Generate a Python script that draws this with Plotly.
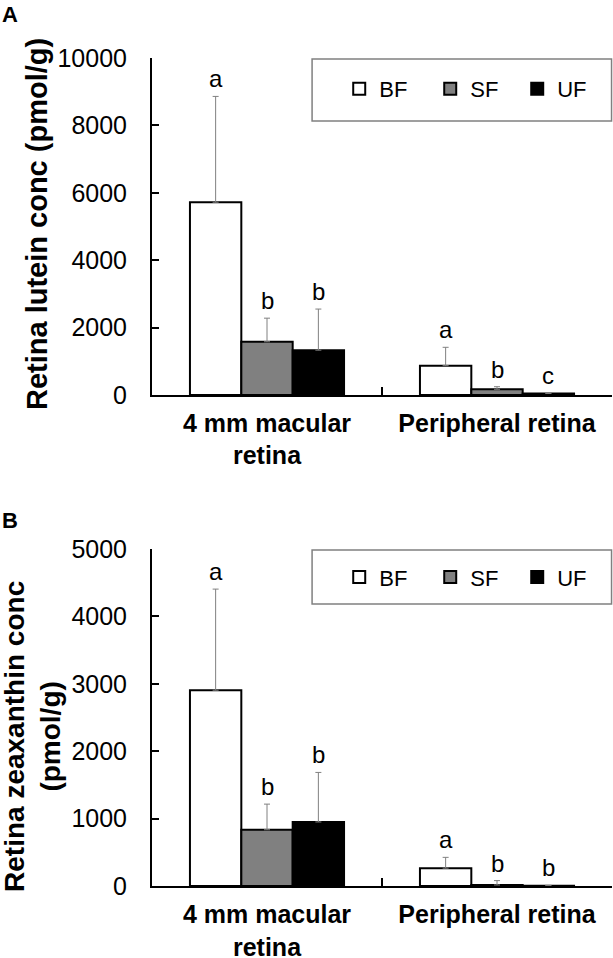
import plotly.graph_objects as go

categories = ["4 mm macular<br>retina", "Peripheral retina"]
groups = ["BF", "SF", "UF"]
colors = ["#FFFFFF", "#808080", "#000000"]

# Panel A: lutein (pmol/g)
lutein_mean = {"BF": [5720, 870], "SF": [1580, 170], "UF": [1330, 45]}
lutein_sd = {"BF": [3140, 545], "SF": [700, 76], "UF": [1220, 10]}
lutein_letters = {"BF": ["a", "a"], "SF": ["b", "b"], "UF": ["b", "c"]}

# Panel B: zeaxanthin (pmol/g)
zea_mean = {"BF": [2905, 265], "SF": [835, 15], "UF": [950, 5]}
zea_sd = {"BF": [1500, 160], "SF": [380, 65], "UF": [735, 5]}
zea_letters = {"BF": ["a", "a"], "SF": ["b", "b"], "UF": ["b", "b"]}

FONT = "Liberation Sans, Arial, sans-serif"
BARGAP = 0.33
LEGEND_WIDTHS = {"BF": 46, "SF": 42, "UF": 30}

fig = go.Figure()

for means, sds, xa, ya, leg in [
        (lutein_mean, lutein_sd, "x", "y", "legend"),
        (zea_mean, zea_sd, "x2", "y2", "legend2")]:
    for g, c in zip(groups, colors):
        fig.add_trace(go.Bar(
            x=categories, y=means[g], name=g, xaxis=xa, yaxis=ya,
            legend=leg, legendwidth=LEGEND_WIDTHS[g],
            marker=dict(color=c, line=dict(color="black", width=2)),
            error_y=dict(type="data", array=sds[g], arrayminus=[0, 0],
                         symmetric=False, color="#808080", thickness=1, width=3),
        ))

# significance letters above error bars
gw = (1 - BARGAP) / 3
for means, sds, letters, xr, yr in [
        (lutein_mean, lutein_sd, lutein_letters, "x", "y"),
        (zea_mean, zea_sd, zea_letters, "x2", "y2")]:
    for gi, g in enumerate(groups):
        for ci in range(len(categories)):
            fig.add_annotation(
                x=ci + (gi - 1) * gw, y=means[g][ci] + sds[g][ci],
                xref=xr, yref=yr, text=letters[g][ci], showarrow=False,
                yanchor="bottom", yshift=2,
                font=dict(family=FONT, size=24, color="black"))

axis_common = dict(showline=True, linecolor="black", linewidth=2,
                   showgrid=False, zeroline=False, automargin=False)
xaxis_common = dict(ticks="inside", ticklen=8, tickwidth=2, tickcolor="black",
                    tickson="boundaries", ticklabelstandoff=5,
                    tickfont=dict(size=25, weight="bold"), **axis_common)
yaxis_common = dict(ticks="inside", ticklen=7, tickwidth=2, tickcolor="black",
                    tickformat="d", ticklabelstandoff=18,
                    tickfont=dict(size=25), **axis_common)

fig.update_layout(
    width=613, height=958,
    margin=dict(l=152, r=1, t=58, b=72),
    paper_bgcolor="white", plot_bgcolor="white",
    barmode="group", bargap=BARGAP, bargroupgap=0,
    font=dict(family=FONT, color="black"),
    xaxis=dict(domain=[0, 1], anchor="y", **xaxis_common),
    yaxis=dict(domain=[0.593, 1], anchor="x", range=[0, 10000], dtick=2000,
               **yaxis_common),
    xaxis2=dict(domain=[0, 1], anchor="y2", **xaxis_common),
    yaxis2=dict(domain=[0, 0.407], anchor="x2", range=[0, 5000], dtick=1000,
                **yaxis_common),
    legend=dict(orientation="h", x=0.407, xanchor="left", y=0.9626,
                yanchor="middle", bgcolor="rgba(0,0,0,0)", borderwidth=0,
                font=dict(size=22)),
    legend2=dict(orientation="h", x=0.407, xanchor="left", y=0.373,
                 yanchor="middle", bgcolor="rgba(0,0,0,0)", borderwidth=0,
                 font=dict(size=22)),
    shapes=[
        dict(type="rect", xref="paper", yref="paper", x0=0.348, x1=0.999,
             y0=0.924, y1=0.9988, line=dict(color="#808080", width=1.5)),
        dict(type="rect", xref="paper", yref="paper", x0=0.348, x1=0.999,
             y0=0.3406, y1=0.4058, line=dict(color="#808080", width=1.5)),
    ],
)

# axis titles and panel labels
fig.add_annotation(text="Retina lutein conc (pmol/g)", xref="paper", yref="paper",
                   x=0, xshift=-115, y=0.7995, textangle=-90, showarrow=False,
                   xanchor="center", yanchor="middle",
                   font=dict(size=29, weight="bold"))
fig.add_annotation(text="Retina zeaxanthin conc<br>(pmol/g)", xref="paper", yref="paper",
                   x=0, xshift=-119, y=0.18, textangle=-90, showarrow=False,
                   xanchor="center", yanchor="middle",
                   font=dict(size=28, weight="bold"))
fig.add_annotation(text="A", xref="paper", yref="paper", x=0, xshift=-152,
                   y=1.07, xanchor="left", yanchor="top", showarrow=False,
                   font=dict(size=22, weight="bold"))
fig.add_annotation(text="B", xref="paper", yref="paper", x=0, xshift=-152,
                   y=0.4585, xanchor="left", yanchor="top", showarrow=False,
                   font=dict(size=22, weight="bold"))

fig.write_html("out.html", config={"displayModeBar": False},
               post_script="document.body.style.margin='0px';"
                           "document.body.style.overflow='hidden';")
